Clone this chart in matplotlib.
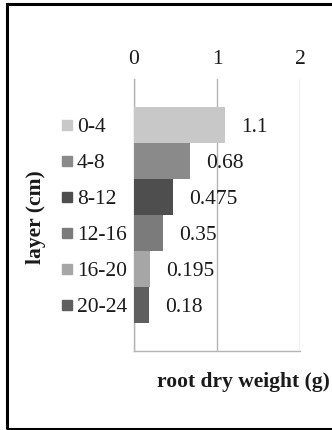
import matplotlib.pyplot as plt
from matplotlib.patches import Rectangle

layers = ["0-4", "4-8", "8-12", "12-16", "16-20", "20-24"]
weights = [1.1, 0.68, 0.475, 0.35, 0.195, 0.18]
colors = ["#c8c8c8", "#8a8a8a", "#4e4e4e", "#7b7b7b", "#a6a6a6", "#5f5f5f"]
xticks = [0, 1, 2]

plt.rcParams["font.family"] = ["Liberation Serif", "DejaVu Serif"]
plt.rcParams["font.size"] = 15.5

fig = plt.figure(figsize=(3.32, 4.31), dpi=100)
ax = fig.add_axes([0.4036, 0.1833, 0.5, 0.6311])

pos = list(range(len(layers)))
ax.barh(pos, weights, height=1.0, color=colors, zorder=3)

# value labels just right of each bar
for y, w in zip(pos, weights):
    ax.text(w + 0.19, y + 0.05, f"{w:g}", ha="left", va="center", color="#1a1a1a", zorder=4)

# legend squares + labels on the left, one per bar row
ytf = ax.get_yaxis_transform()
for y, lab, c in zip(pos, layers, colors):
    ax.plot([-0.404], [y], marker="s", markersize=7.5, color=c, transform=ytf, clip_on=False)
    ax.text(-0.345, y + 0.05, lab, ha="left", va="center", transform=ytf, color="#1a1a1a")

ax.set_xlim(0, 2)
ax.set_ylim(6.278, -1.278)
ax.set_xticks(xticks)
ax.set_yticks([])
ax.xaxis.tick_top()
ax.tick_params(axis="x", length=0, pad=8, colors="#1a1a1a")
ax.grid(axis="x", color="#b4b4b4", linewidth=1.0, zorder=0)

for s in ["top", "right"]:
    ax.spines[s].set_visible(False)
for s in ["left", "bottom"]:
    ax.spines[s].set_color("#b4b4b4")
    ax.spines[s].set_linewidth(1.0)

ax.text(0.657, -0.11, "root dry weight (g)", transform=ax.transAxes,
        ha="center", va="center", fontweight="bold", color="#1a1a1a")
ax.text(-0.593, 0.496, "layer (cm)", transform=ax.transAxes, rotation=90,
        ha="center", va="center", fontweight="bold", color="#1a1a1a")

# chart frame
fig.patches.append(Rectangle((7 / 332, 1.5 / 431), 1.1, 424.5 / 431, transform=fig.transFigure,
                             fill=False, edgecolor="black", linewidth=2.2))

fig.savefig("out.png", dpi=100)
